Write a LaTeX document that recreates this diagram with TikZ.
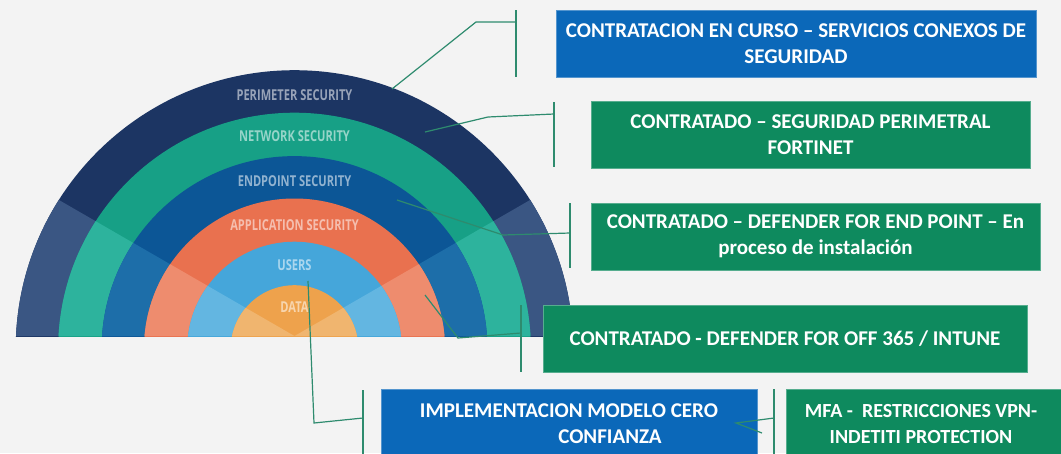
\documentclass[tikz,border=0pt]{standalone}
\usepackage{fontspec}
\setmainfont{Carlito}
\newfontfamily\ringfont{Open Sans}[FakeStretch=0.74]
\definecolor{bg}{HTML}{F3F3F3}
\definecolor{navy}{HTML}{1C3563}
\definecolor{navyL}{HTML}{3A5683}
\definecolor{teal}{HTML}{17A086}
\definecolor{tealL}{HTML}{2DB39D}
\definecolor{blu}{HTML}{0C5696}
\definecolor{bluL}{HTML}{1D6EA9}
\definecolor{org}{HTML}{E9714F}
\definecolor{orgL}{HTML}{EE8C6E}
\definecolor{sky}{HTML}{45A6DA}
\definecolor{skyL}{HTML}{63B6E1}
\definecolor{dat}{HTML}{EEA24C}
\definecolor{datL}{HTML}{F0B56F}
\definecolor{boxblue}{HTML}{0B68B9}
\definecolor{boxgreen}{HTML}{0E8A5E}
\definecolor{lineg}{HTML}{2E8B6E}
\begin{document}
\begin{tikzpicture}[x=1pt,y=-1pt,
  ringlabel/.style={font=\ringfont\bfseries\fontsize{15}{15}\selectfont, text=white, text opacity=0.55, inner sep=0pt},
  boxbase/.style={text=white, font=\bfseries\fontsize{21}{26}\selectfont, align=center, inner sep=0pt, minimum height=67, line width=0.8pt},
  bluebox/.style={boxbase, fill=boxblue, draw=boxblue!70!white},
  greenbox/.style={boxbase, fill=boxgreen, draw=boxgreen!70!white},
  conn/.style={draw=lineg, line width=1.2pt}
]
\clip (0,0) rectangle (1061,453);
\fill[bg] (0,0) rectangle (1061,453);

% semicircle rings
\coordinate (O) at (294.5,349);
\coordinate (A) at (294.5,336);
\begin{scope}
  \clip (0,0) rectangle (1061,336);
  \foreach \r/\dk/\lt in {278.8/navy/navyL, 236.3/teal/tealL, 192.9/blu/bluL, 150.5/org/orgL, 107.3/sky/skyL, 63.8/dat/datL}{
    \fill[\dk] (O) circle[radius=\r];
    \begin{scope}
      \clip (A) -- (-205.5,47.3) -- (-205.5,336) -- cycle
            (A) -- (794.5,47.3) -- (794.5,336) -- cycle;
      \fill[\lt] (O) circle[radius=\r];
    \end{scope}
  }
\end{scope}

% ring labels
\node[ringlabel] (lper) at (294.5,95) {PERIMETER SECURITY};
\node[ringlabel] (lnet) at (294.5,136) {NETWORK SECURITY};
\node[ringlabel] (lend) at (294.5,181) {ENDPOINT SECURITY};
\node[ringlabel] (lapp) at (294.5,225) {APPLICATION SECURITY};
\node[ringlabel] (lusr) at (294.5,265) {USERS};
\node[ringlabel] (ldat) at (294.5,307) {DATA};

% boxes
\node[bluebox, minimum width=480] (b1) at (796,43.5) {CONTRATACION EN CURSO – SERVICIOS CONEXOS DE\\SEGURIDAD};
\node[greenbox, minimum width=439] (b2) at (810.5,134.5) {CONTRATADO – SEGURIDAD PERIMETRAL\\FORTINET};
\node[greenbox, minimum width=449] (b3) at (815.5,236.5) {CONTRATADO – DEFENDER FOR END POINT – En\\proceso de instalación};
\node[greenbox, minimum width=484] (b4) at (785,338.5) {CONTRATADO - DEFENDER FOR OFF 365 / INTUNE};
\node[bluebox, minimum width=376, minimum height=70] (b5) at (569,424) {IMPLEMENTACION MODELO CERO\\\hspace*{82pt}CONFIANZA};
\node[greenbox, minimum width=285, minimum height=70, font=\bfseries\fontsize{20}{26}\selectfont] (b6) at (928.5,424) {MFA -~~RESTRICCIONES VPN-\hspace*{15pt}\\INDETITI PROTECTION\hspace*{15pt}};

% connector 1 (perimeter)
\coordinate (p1) at (392,89);
\coordinate (k1) at (476,22);
\coordinate (m1) at (516,22);
\coordinate (t1) at (516,10);
\coordinate (u1) at (516,77);
\draw[conn] (p1) -- (k1) -- (m1);
\draw[conn] (t1) -- (u1);

% connector 2 (network)
\coordinate (p2) at (425,132);
\coordinate (k2) at (488,117);
\coordinate (m2) at (554,114);
\coordinate (t2) at (554,102);
\coordinate (u2) at (554,167);
\draw[conn] (p2) -- (k2) -- (m2);
\draw[conn] (t2) -- (u2);

% connector 3 (endpoint)
\coordinate (p3) at (397,200);
\coordinate (k3) at (503,235);
\coordinate (m3) at (570,233);
\coordinate (t3) at (570,203);
\coordinate (u3) at (570,268);
\draw[conn] (p3) -- (k3) -- (m3);
\draw[conn] (t3) -- (u3);

% connector 4 (application)
\coordinate (p4) at (425,295);
\coordinate (k4) at (458,338);
\coordinate (m4) at (521,333);
\coordinate (t4) at (521,305);
\coordinate (u4) at (521,372);
\draw[conn] (p4) -- (k4) -- (m4);
\draw[conn] (t4) -- (u4);

% connector 5 (users)
\coordinate (p5) at (308,281);
\coordinate (k5) at (314,423);
\coordinate (m5) at (363,418);
\coordinate (t5) at (363,390);
\coordinate (u5) at (363,460);
\draw[conn] (p5) -- (k5) -- (m5);
\draw[conn] (t5) -- (u5);

% connector 6 (MFA to zero trust)
\coordinate (m6) at (774,418);
\coordinate (k6) at (736,423);
\coordinate (e6) at (762,433);
\coordinate (t6) at (774,389);
\coordinate (u6) at (774,460);
\draw[conn] (m6) -- (k6) -- (e6);
\draw[conn] (t6) -- (u6);
\end{tikzpicture}
\end{document}
